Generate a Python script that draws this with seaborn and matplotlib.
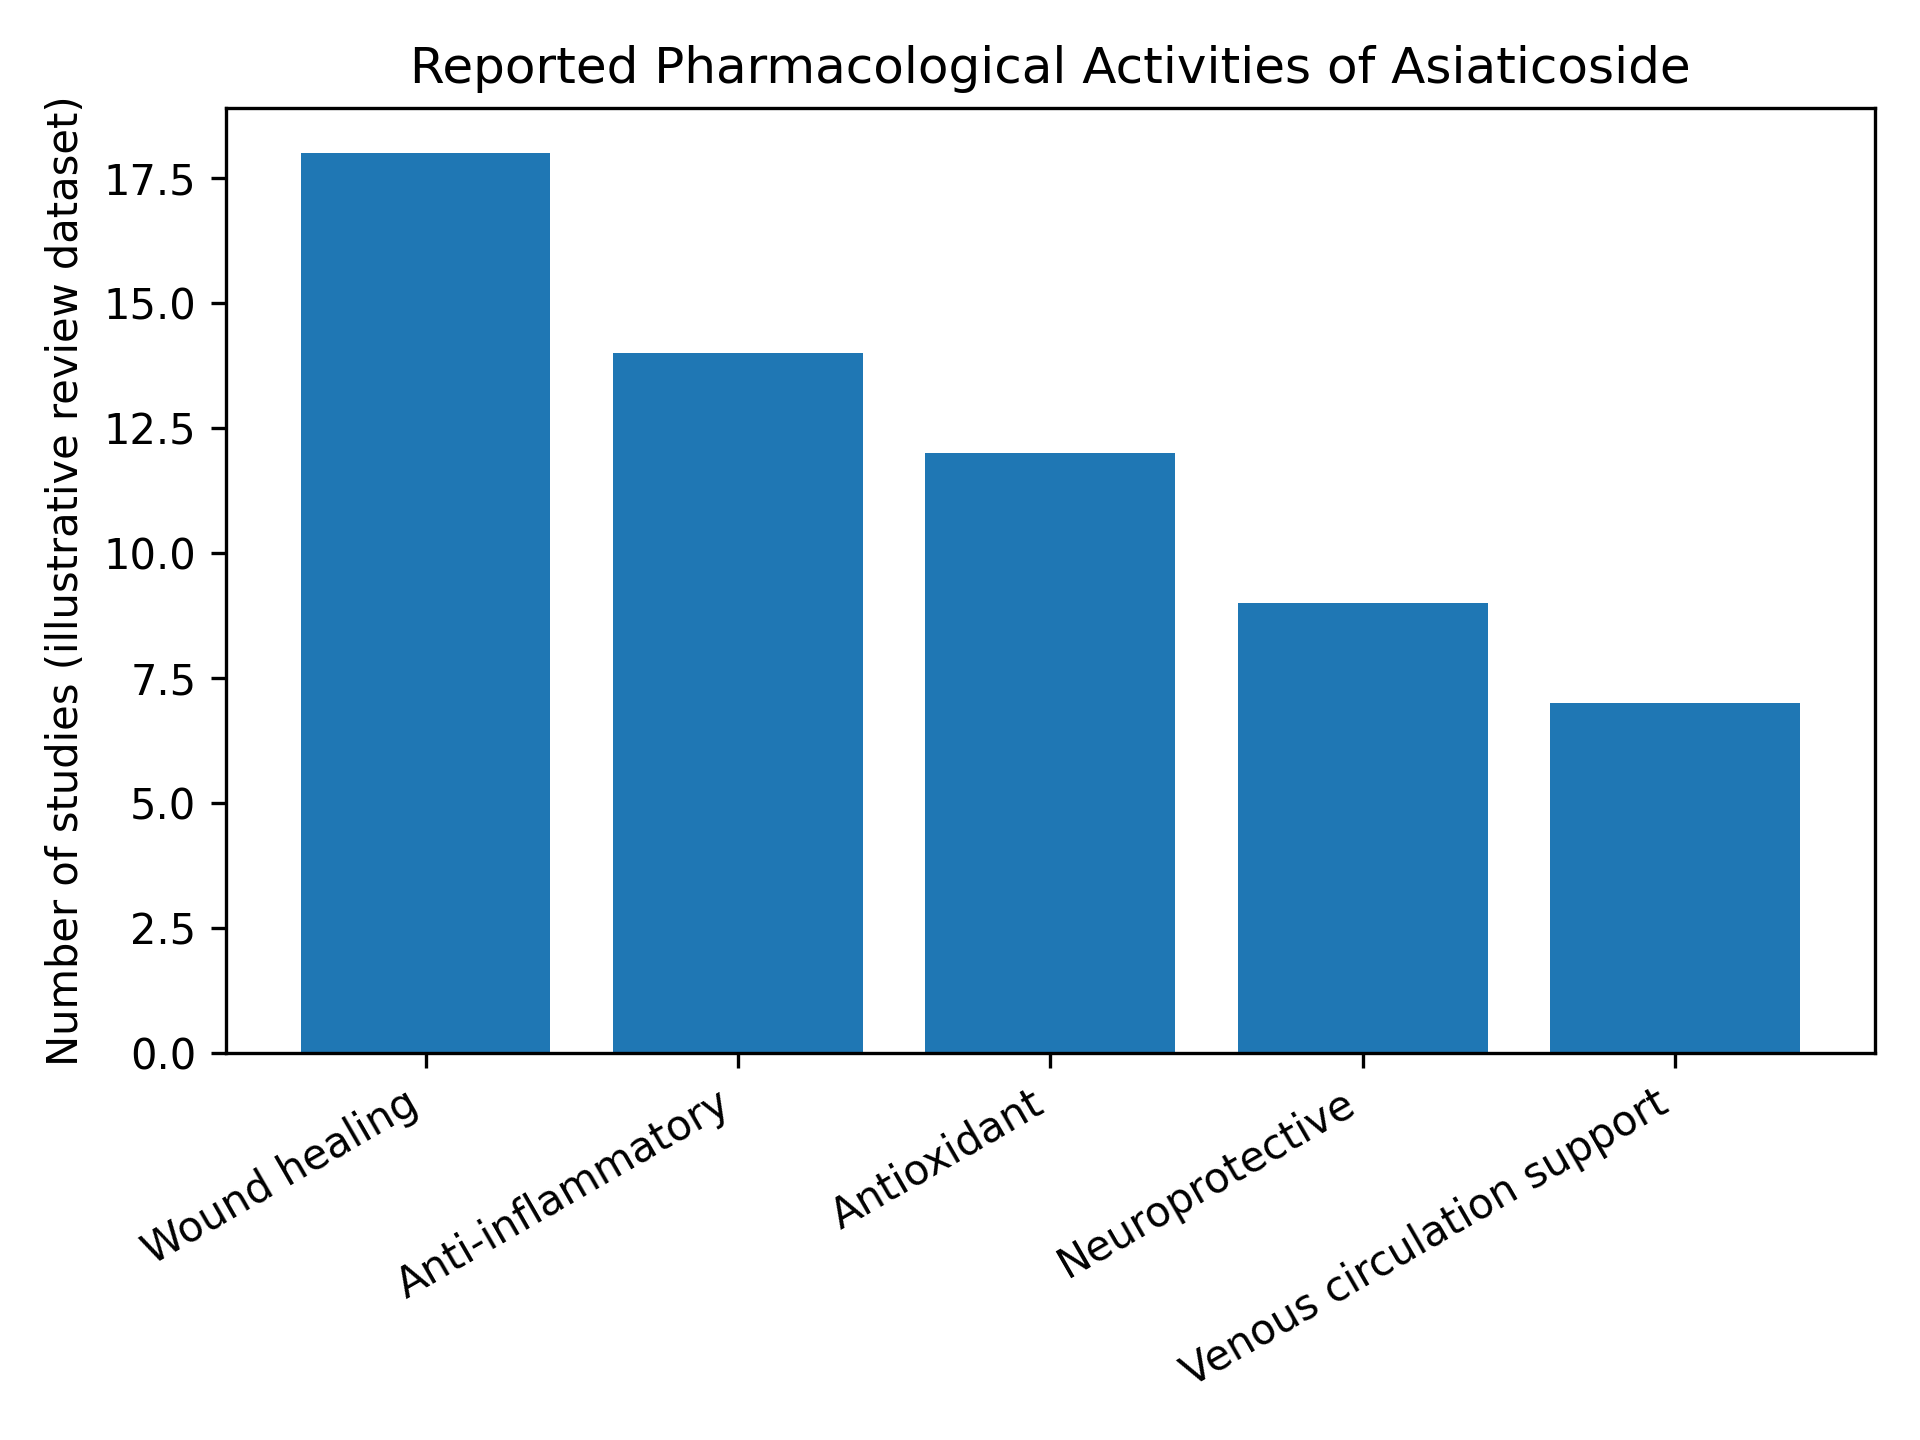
import matplotlib
matplotlib.use("Agg")
import matplotlib.pyplot as plt
import seaborn as sns
import pandas as pd

activities = ["Wound healing", "Anti-inflammatory", "Antioxidant", "Neuroprotective", "Venous circulation support"]
studies = [18, 14, 12, 9, 7]

df = pd.DataFrame({"activity": activities, "studies": studies})

fig, ax = plt.subplots(figsize=(6.4, 4.8), dpi=300)
sns.barplot(data=df, x="activity", y="studies", color="#1f77b4", saturation=1, width=0.8, ax=ax)
n = len(activities)
span = (n - 1) + 0.8
ax.set_xlim(-0.4 - 0.05 * span, n - 1 + 0.4 + 0.05 * span)
ax.set_title("Reported Pharmacological Activities of Asiaticoside")
ax.set_xlabel("")
ax.set_ylabel("Number of studies (illustrative review dataset)")
plt.setp(ax.get_xticklabels(), rotation=30, ha="right")
fig.tight_layout()
fig.savefig("out.png", dpi=300)
